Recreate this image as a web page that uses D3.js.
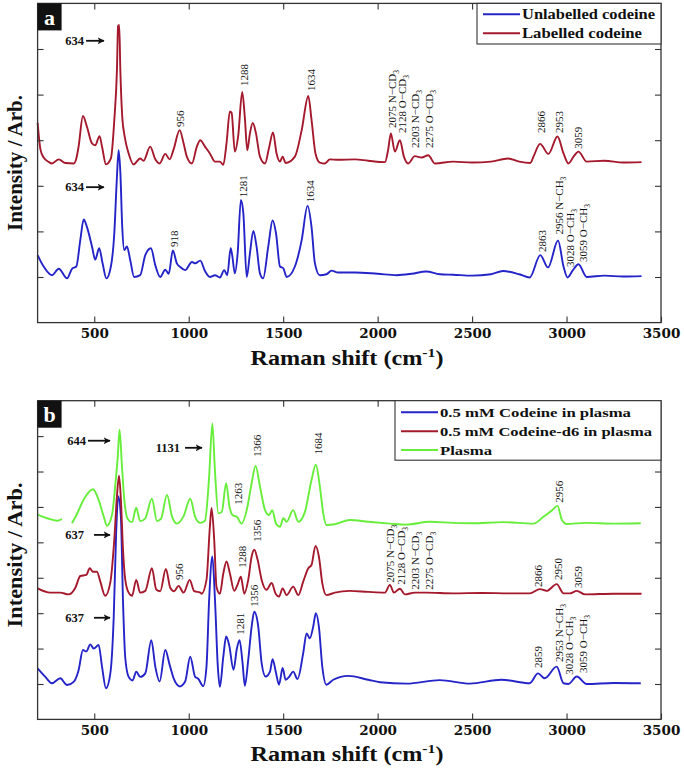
<!DOCTYPE html>
<html><head><meta charset="utf-8">
<script src="https://cdn.jsdelivr.net/npm/d3@7"></script>
<style>body{margin:0;background:#fff}svg{display:block}</style>
</head><body><svg id="c" width="684" height="769"></svg>
<script>
// ---------------- DATA ----------------
const xTicks = [500,1000,1500,2000,2500,3000,3500];

// Panel a: [Raman shift, intensity (arb.)]
const aUnlabelled = [[200,1.48],[232,1.23],[276,1.04],[312,1.18],[356,0.97],[382,1.18],[405,1.23],[426,1.81],[444,2.26],[461,2.1],[488,1.67],[505,1.38],[526,1.63],[544,1.3],[564,0.97],[588,1.23],[606,1.96],[620,3.2],[629,3.78],[638,3.3],[648,2.1],[659,1.59],[673,1.67],[690,1.38],[711,1.0],[743,1.04],[770,1.48],[800,1.63],[823,1.26],[849,1.0],[876,1.16],[894,1.07],[916,1.58],[937,1.3],[955,1.22],[981,1.15],[1017,1.33],[1034,1.3],[1061,1.36],[1086,1.13],[1112,1.0],[1139,1.04],[1165,0.99],[1188,1.15],[1204,1.04],[1222,1.63],[1230,1.48],[1244,1.08],[1259,1.52],[1276,2.69],[1289,2.4],[1307,1.0],[1324,1.52],[1342,2.01],[1359,1.67],[1377,1.08],[1394,0.97],[1421,1.67],[1444,2.24],[1462,1.96],[1483,1.23],[1501,1.19],[1518,1.0],[1562,1.23],[1598,1.81],[1629,2.56],[1650,2.1],[1668,1.3],[1694,1.04],[1729,1.06],[1756,1.14],[1791,1.1],[1880,1.1],[2000,1.07],[2100,1.04],[2180,1.07],[2257,1.12],[2330,1.06],[2400,1.05],[2500,1.03],[2600,1.06],[2664,1.13],[2750,1.06],[2805,0.99],[2861,1.48],[2902,1.21],[2955,1.8],[2984,1.23],[3005,0.99],[3034,1.15],[3063,1.28],[3107,1.0],[3200,1.03],[3300,1.01],[3397,1.02]];
const aLabelled = [[200,4.38],[215,3.8],[232,3.62],[260,3.52],[276,3.49],[312,3.58],[347,3.5],[391,3.49],[405,3.6],[417,3.86],[440,4.53],[461,4.3],[488,3.93],[505,3.89],[528,4.09],[541,3.86],[562,3.47],[588,3.6],[606,4.44],[620,5.54],[626,6.5],[632,6.53],[638,5.54],[648,4.52],[661,4.08],[682,3.71],[708,3.47],[743,3.6],[761,3.55],[796,3.86],[823,3.58],[846,3.49],[876,3.7],[899,3.58],[920,3.8],[952,4.22],[973,3.93],[990,3.64],[1017,3.49],[1043,3.86],[1061,4.0],[1086,3.86],[1112,3.71],[1139,3.53],[1165,3.53],[1183,3.46],[1200,3.93],[1218,4.63],[1227,4.6],[1244,3.75],[1262,4.1],[1283,5.06],[1297,4.5],[1310,3.78],[1324,4.15],[1339,4.38],[1356,4.15],[1377,3.64],[1404,3.49],[1425,3.83],[1446,4.17],[1465,3.71],[1483,3.53],[1497,3.64],[1513,3.5],[1562,3.64],[1598,4.22],[1633,4.97],[1650,4.45],[1671,3.71],[1694,3.51],[1721,3.49],[1747,3.58],[1791,3.57],[1880,3.58],[1950,3.55],[2039,3.52],[2056,3.8],[2070,4.15],[2091,3.75],[2118,4.0],[2139,3.64],[2162,3.49],[2197,3.65],[2233,3.62],[2268,3.67],[2303,3.49],[2400,3.53],[2500,3.51],[2600,3.53],[2690,3.6],[2750,3.53],[2808,3.5],[2825,3.64],[2860,3.92],[2904,3.7],[2952,4.08],[2984,3.71],[3010,3.49],[3037,3.64],[3063,3.75],[3107,3.53],[3200,3.55],[3300,3.51],[3397,3.52]];

// Panel b
const bCodeine = [[200,1.44],[241,1.2],[276,1.02],[320,1.16],[356,0.97],[391,1.06],[417,1.39],[440,1.96],[458,1.92],[479,2.12],[497,2.0],[523,2.1],[541,1.49],[562,0.88],[585,1.3],[603,2.9],[616,5.3],[627,6.3],[641,5.7],[652,3.35],[664,1.74],[682,1.2],[703,1.1],[722,1.35],[743,1.2],[770,1.3],[802,2.24],[823,1.49],[846,1.07],[876,1.96],[899,1.54],[923,1.12],[952,0.93],[981,1.07],[1008,1.77],[1034,1.2],[1050,1.15],[1077,0.94],[1094,1.49],[1108,3.38],[1125,4.6],[1139,3.38],[1154,1.49],[1165,0.92],[1183,1.77],[1198,2.34],[1214,2.1],[1237,1.4],[1255,2.0],[1269,2.24],[1285,1.59],[1297,0.95],[1315,1.68],[1333,2.62],[1347,3.04],[1368,2.62],[1386,1.59],[1407,1.21],[1430,1.35],[1444,1.7],[1462,1.31],[1478,0.98],[1497,1.45],[1513,1.12],[1533,1.21],[1553,1.35],[1576,1.14],[1606,1.87],[1624,2.43],[1641,2.29],[1659,2.62],[1673,3.0],[1689,2.62],[1707,1.49],[1729,0.98],[1765,1.12],[1844,1.23],[1950,1.12],[2013,1.05],[2154,1.01],[2329,1.11],[2488,1.01],[2656,1.12],[2805,1.02],[2849,1.3],[2884,1.16],[2948,1.49],[2984,1.02],[3010,1.0],[3054,1.21],[3107,1.0],[3250,1.03],[3393,1.02]];
const bCodeineD6 = [[200,3.7],[267,3.58],[320,3.58],[364,3.53],[400,3.72],[426,4.05],[458,4.08],[476,4.27],[493,4.17],[514,4.17],[532,3.89],[558,3.49],[585,3.87],[606,5.08],[620,6.3],[631,6.88],[641,6.2],[652,4.8],[664,3.95],[682,3.58],[700,3.49],[722,3.94],[743,3.58],[770,3.63],[805,4.27],[828,3.67],[849,3.62],[879,4.25],[902,3.72],[923,3.62],[946,3.77],[973,3.58],[1005,3.94],[1029,3.62],[1061,3.58],[1068,3.55],[1094,3.94],[1112,5.44],[1121,5.97],[1135,5.06],[1147,3.74],[1165,3.55],[1183,4.12],[1200,4.46],[1218,4.12],[1241,3.63],[1259,3.81],[1276,4.03],[1294,3.55],[1315,3.94],[1333,4.6],[1347,4.79],[1365,4.5],[1386,3.94],[1412,3.66],[1439,3.85],[1460,3.55],[1478,3.47],[1497,3.7],[1518,3.51],[1553,3.75],[1580,3.51],[1606,3.89],[1633,4.27],[1650,4.36],[1671,4.9],[1689,4.6],[1707,3.85],[1729,3.51],[1773,3.58],[1853,3.63],[1950,3.6],[2039,3.58],[2065,3.8],[2086,3.58],[2118,3.69],[2144,3.53],[2197,3.58],[2259,3.58],[2400,3.56],[2550,3.57],[2700,3.56],[2805,3.56],[2859,3.68],[2895,3.63],[2948,3.82],[2984,3.56],[3019,3.56],[3054,3.63],[3098,3.53],[3250,3.55],[3397,3.55]];
const bPlasma = [[200,5.78],[250,5.68],[303,5.61],[329,5.66],[345,null],[370,null],[382,5.54],[408,5.8],[444,6.21],[493,6.5],[523,6.2],[550,5.73],[567,5.47],[594,5.78],[611,6.6],[624,7.4],[634,8.18],[646,7.2],[659,6.2],[677,5.66],[700,5.57],[722,5.98],[743,5.6],[770,5.68],[805,6.23],[832,5.6],[853,5.66],[885,6.34],[911,5.74],[937,5.53],[973,5.74],[1008,6.23],[1034,5.72],[1061,5.55],[1086,5.61],[1108,6.85],[1125,8.36],[1139,7.0],[1157,5.82],[1175,5.86],[1198,6.67],[1216,6.0],[1232,5.77],[1255,5.72],[1280,5.53],[1307,5.91],[1333,6.67],[1354,7.16],[1377,6.58],[1404,5.91],[1425,5.77],[1442,5.91],[1462,5.53],[1483,5.44],[1501,5.68],[1518,5.58],[1553,5.91],[1580,5.58],[1615,5.86],[1650,6.76],[1673,7.19],[1694,6.58],[1712,5.82],[1729,5.49],[1773,5.51],[1853,5.63],[1950,5.58],[2065,5.53],[2150,5.5],[2276,5.58],[2400,5.55],[2500,5.54],[2663,5.57],[2825,5.53],[2878,5.72],[2922,5.9],[2952,6.03],[2975,5.64],[3001,5.52],[3100,5.55],[3250,5.53],[3393,5.54]];

// Annotations: wavenumber position, intensity at label base, text, subscript
const aPeakLabels = [
  {w:954,v:4.29,t:"956"},{w:1293,v:5.19,t:"1288"},{w:1647,v:5.08,t:"1634"},
  {w:2076,v:4.27,t:"2075 N\u2212CD",s:"3"},{w:2129,v:4.16,t:"2128 O\u2212CD",s:"3"},
  {w:2198,v:3.83,t:"2203 N\u2212CD",s:"3"},{w:2272,v:3.83,t:"2275 O\u2212CD",s:"3"},
  {w:2865,v:4.16,t:"2866"},{w:2960,v:4.16,t:"2953"},{w:3060,v:3.81,t:"3059"},
  {w:922,v:1.66,t:"918"},{w:1287,v:2.75,t:"1281"},{w:1642,v:2.64,t:"1634"},
  {w:2870,v:1.55,t:"2863"},{w:2960,v:1.93,t:"2956 N\u2212CH",s:"3"},
  {w:3018,v:1.22,t:"3028 O\u2212CH",s:"3"},{w:3087,v:1.33,t:"3059 O\u2212CH",s:"3"}
];
const aArrows = [{t:"634",w0:446,w1:551,v:6.18},{t:"634",w0:446,w1:551,v:2.97}];
const bPeakLabels = [
  {w:1361,v:7.42,t:"1366"},{w:1684,v:7.48,t:"1684"},{w:1261,v:6.06,t:"1263"},{w:2960,v:6.12,t:"2956"},
  {w:948,v:3.94,t:"956"},{w:1282,v:4.28,t:"1288"},{w:1361,v:5.02,t:"1356"},
  {w:2065,v:3.86,t:"2075 N\u2212CD",s:"3"},{w:2124,v:3.8,t:"2128 O\u2212CD",s:"3"},
  {w:2198,v:3.66,t:"2203 N\u2212CD",s:"3"},{w:2272,v:3.66,t:"2275 O\u2212CD",s:"3"},
  {w:2849,v:3.74,t:"2866"},{w:2954,v:3.94,t:"2950"},{w:3060,v:3.71,t:"3059"},
  {w:1271,v:2.39,t:"1281"},{w:1345,v:3.18,t:"1356"},{w:2849,v:1.45,t:"2859"},
  {w:2960,v:1.62,t:"2953 N\u2212CH",s:"3"},{w:3012,v:1.26,t:"3028 O\u2212CH",s:"3"},{w:3087,v:1.31,t:"3059 O\u2212CH",s:"3"}
];
const bArrows = [{t:"644",w0:456,w1:583,v:7.87},{t:"1131",w0:954,w1:1070,v:7.67,w2:970},{t:"637",w0:446,w1:583,v:5.21,w2:488},{t:"637",w0:446,w1:583,v:2.87,w2:488}];

const aLegend = ["Unlabelled codeine","Labelled codeine"];
const bLegend = ["0.5 mM Codeine in plasma","0.5 mM Codeine-d6 in plasma","Plasma"];
const BLUE = "#2424c8", RED = "#a5192d", GREEN = "#66ee3a";

// ---------------- DRAW ----------------
const svg = d3.select("#c");
const SERIF = "'Liberation Serif','Times New Roman',serif";
const x = d3.scaleLinear().domain([200,3500]).range([37.6,661]);

svg.append("defs").append("marker").attr("id","ah").attr("viewBox","0 0 10 10")
  .attr("refX",9).attr("refY",5).attr("markerWidth",7).attr("markerHeight",7)
  .attr("markerUnits","userSpaceOnUse").attr("orient","auto")
  .append("path").attr("d","M0,0L10,5L0,10L2.5,5Z").attr("fill","#111");

function panel(cfg){
  const y = d3.scaleLinear().domain([0,cfg.yMax]).range([cfg.bottom,cfg.top]);
  const g = svg.append("g");
  const line = d3.line().defined(d=>d[1]!=null).x(d=>x(d[0])).y(d=>y(d[1])).curve(d3.curveMonotoneX);
  cfg.series.forEach(s=>{
    g.append("path").datum(s.data).attr("d",line).attr("fill","none")
     .attr("stroke",s.color).attr("stroke-width",1.9).attr("stroke-linejoin","round");
  });
  // axes
  const ax = g.append("g").attr("transform",`translate(0,${cfg.bottom})`)
    .call(d3.axisBottom(x).tickValues(xTicks).tickSize(-6).tickPadding(6).tickFormat(d3.format("d")));
  ax.selectAll("text").attr("font-family","'DejaVu Serif',serif").attr("font-weight","bold").attr("font-size",13.5).attr("fill","#111");
  g.append("g").attr("transform",`translate(0,${cfg.top})`)
    .call(d3.axisTop(x).tickValues(xTicks.slice(0,-1)).tickSize(-6).tickFormat(""));
  const yt = d3.range(1,cfg.yMax);
  g.append("g").attr("transform",`translate(${x(200)},0)`).call(d3.axisLeft(y).tickValues(yt).tickSize(-6).tickFormat(""));
  g.append("g").attr("transform",`translate(${x(3500)},0)`).call(d3.axisRight(y).tickValues(yt).tickSize(-6).tickFormat(""));
  g.selectAll(".domain").remove();
  g.selectAll(".tick line").attr("stroke","#333").attr("stroke-width",1.1);
  g.append("rect").attr("x",x(200)).attr("y",cfg.top).attr("width",x(3500)-x(200)).attr("height",cfg.bottom-cfg.top)
    .attr("fill","none").attr("stroke","#333").attr("stroke-width",1.3);

  // peak labels
  cfg.labels.forEach(l=>{
    const t = g.append("text").attr("transform",`translate(${x(l.w)},${y(l.v)}) rotate(-90)`)
      .attr("dy","0.35em").attr("font-family",SERIF).attr("font-size",11).attr("fill","#111").text(l.t);
    if(l.s) t.append("tspan").attr("font-size",7.5).attr("dy",3).text(l.s);
  });
  // arrows
  cfg.arrows.forEach(a=>{
    g.append("text").attr("x",x(a.w0)).attr("y",y(a.v)).attr("dy","0.33em").attr("text-anchor","end")
      .attr("font-family",SERIF).attr("font-weight","bold").attr("font-size",12.5).attr("fill","#111").text(a.t);
    g.append("line").attr("x1",x(a.w2||a.w0)+2).attr("x2",x(a.w1)).attr("y1",y(a.v)).attr("y2",y(a.v))
      .attr("stroke","#111").attr("stroke-width",1.8).attr("marker-end","url(#ah)");
  });

  // legend
  const L = cfg.legend;
  g.append("rect").attr("x",L.x).attr("y",cfg.top).attr("width",x(3500)-L.x).attr("height",L.h)
    .attr("fill","#fff").attr("stroke","#333").attr("stroke-width",1.1);
  L.items.forEach((it,i)=>{
    const yy = cfg.top + L.y0 + i*L.dy;
    g.append("line").attr("x1",L.x+6).attr("x2",L.x+L.lw).attr("y1",yy).attr("y2",yy).attr("stroke",it.c).attr("stroke-width",2);
    g.append("text").attr("x",L.x+L.lw+2).attr("y",yy).attr("dy","0.33em").attr("font-family",SERIF)
      .attr("font-weight","bold").attr("font-size",L.fs).attr("fill","#111")
      .attr("textLength",it.len).attr("lengthAdjust","spacingAndGlyphs").text(it.t);
  });

  // panel letter
  g.append("rect").attr("x",x(200)).attr("y",cfg.top).attr("width",24).attr("height",27).attr("fill","#111");
  g.append("text").attr("x",x(200)+12).attr("y",cfg.top+14).attr("dy","0.33em").attr("text-anchor","middle")
    .attr("font-family",SERIF).attr("font-weight","bold").attr("font-size",22).attr("fill","#fff").text(cfg.letter);

  // axis titles
  const xt = g.append("text").attr("x",347).attr("y",cfg.bottom+42).attr("text-anchor","middle")
    .attr("font-family",SERIF).attr("font-weight","bold").attr("font-size",20).attr("fill","#111")
    .attr("textLength",193).attr("lengthAdjust","spacingAndGlyphs");
  xt.append("tspan").text("Raman shift (cm");
  xt.append("tspan").attr("font-size",13).attr("dy",-8).text("-1");
  xt.append("tspan").attr("dy",8).text(")");
  g.append("text").attr("transform",`translate(15,${cfg.ymid}) rotate(-90)`).attr("text-anchor","middle").attr("dy","0.35em")
    .attr("font-family",SERIF).attr("font-weight","bold").attr("font-size",20).attr("fill","#111")
    .attr("textLength",cfg.ylen).attr("lengthAdjust","spacingAndGlyphs").text("Intensity / Arb.");
}

panel({top:3.4,bottom:322.6,yMax:7,letter:"a",ymid:163,ylen:136,
  series:[{data:aLabelled,color:RED},{data:aUnlabelled,color:BLUE}],
  labels:aPeakLabels,arrows:aArrows,
  legend:{x:477,h:40.6,y0:10.9,dy:19,lw:43,fs:14.5,items:[{t:aLegend[0],c:BLUE,len:133},{t:aLegend[1],c:RED,len:120}]}
});
panel({top:400.7,bottom:719.4,yMax:9,letter:"b",ymid:555,ylen:145,
  series:[{data:bCodeine,color:BLUE},{data:bCodeineD6,color:RED},{data:bPlasma,color:GREEN}],
  labels:bPeakLabels,arrows:bArrows,
  legend:{x:395,h:59.5,y0:11.6,dy:18.9,lw:43,fs:13.5,items:[{t:bLegend[0],c:BLUE,len:191},{t:bLegend[1],c:RED,len:212},{t:bLegend[2],c:GREEN,len:52}]}
});
</script></body></html>
